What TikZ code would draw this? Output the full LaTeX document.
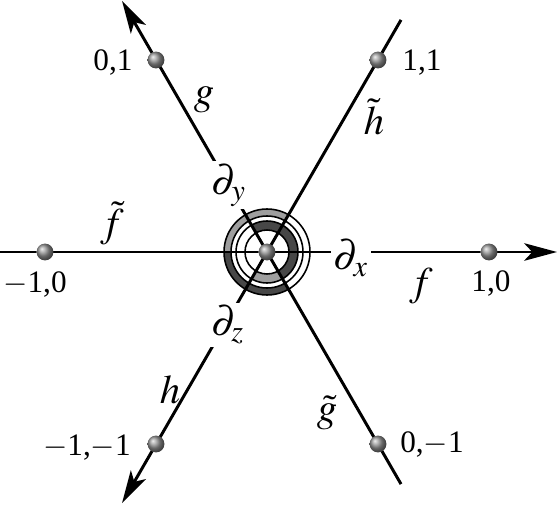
\documentclass[tikz,border=0pt]{standalone}
\usepackage{mathptmx}
\usepackage{fontspec}
\setmainfont{Liberation Serif}
\usepackage{tikz}
\usetikzlibrary{arrows.meta}

\definecolor{ringlight}{gray}{0.62}
\definecolor{ringdark}{gray}{0.28}

\tikzset{
  axis/.style={line width=0.95pt},
  axisarrow/.style={axis, -{Stealth[length=10.5pt, width=5.6pt, inset=2.6pt]}},
  ringline/.style={line width=0.5pt},
  ballnode/.style={circle, inner sep=0pt, minimum size=5.4pt, shading=ball, ball color=gray!85},
  deriv/.style={fill=white, inner sep=0.8pt, font=\fontsize{13}{15}\selectfont},
  maplabel/.style={font=\fontsize{13}{15}\selectfont},
}

\begin{document}
\begin{tikzpicture}[x=0.32pt, y=0.32pt]
  \useasboundingbox (0,0) rectangle (560,504);

  \begin{scope}[shift={(267,252)}]
    % rings round the centre
    \fill[ringlight] (60:43) arc[start angle=60, end angle=180, radius=43]
        -- (180:36) arc[start angle=180, end angle=60, radius=36] -- cycle;
    \fill[ringdark] (180:43) arc[start angle=180, end angle=300, radius=43]
        -- (300:36) arc[start angle=300, end angle=180, radius=36] -- cycle;
    \fill[ringdark] (-60:31) arc[start angle=-60, end angle=120, radius=31]
        -- (120:22) arc[start angle=120, end angle=-60, radius=22] -- cycle;
    \fill[ringlight] (240:31) arc[start angle=240, end angle=300, radius=31]
        -- (300:22) arc[start angle=300, end angle=240, radius=22] -- cycle;
    \foreach \r in {43,36,31,22}
      \draw[ringline] (0,0) circle[radius=\r];

    % ends of the three axes
    \coordinate (endW)  at (180:268);
    \coordinate (endNE) at (60:268);
    \coordinate (endSE) at (300:268);
    \coordinate (tipE)  at (0:290);
    \coordinate (tipNW) at (120:290);
    \coordinate (tipSW) at (240:290);
  \end{scope}

  \draw[axisarrow] (endW) -- (tipE);
  \draw[axisarrow] (endSE) -- (tipNW);
  \draw[axisarrow] (endNE) -- (tipSW);

  % derivatives sitting on the axes
  \node[deriv] (dx) at (351,246) {$\partial_x$};
  \node[deriv] (dy) at (229,319) {$\partial_y$};
  \node[deriv] (dz) at (228,179) {$\partial_z$};

  % lattice points
  \node[ballnode] (b00)   at (267,252) {};
  \node[ballnode] (b10)   at (489,252) {};
  \node[ballnode] (bm10)  at (45,252) {};
  \node[ballnode] (b11)   at (378,444) {};
  \node[ballnode] (b01)   at (156,444) {};
  \node[ballnode] (bm1m1) at (156,60) {};
  \node[ballnode] (b0m1)  at (378,60) {};

  \node (l10)   at (491,220) {1,0};
  \node (lm10)  at (35,219) {$-$1,0};
  \node (l11)   at (422,441) {1,1};
  \node (l01)   at (113,441) {0,1};
  \node (lm1m1) at (87,56) {$-$1,$-$1};
  \node (l0m1)  at (432,59) {0,$-$1};

  % maps along the axes
  \node[maplabel] (f)  at (421,218) {$f$};
  \node[maplabel] (ft) at (112,281) {$\tilde{f}$};
  \node[maplabel] (g)  at (204,404) {$g$};
  \node[maplabel] (gt) at (327,91)  {$\tilde{g}$};
  \node[maplabel] (h)  at (170,114) {$h$};
  \node[maplabel] (ht) at (374,387) {$\tilde{h}$};
\end{tikzpicture}
\end{document}
